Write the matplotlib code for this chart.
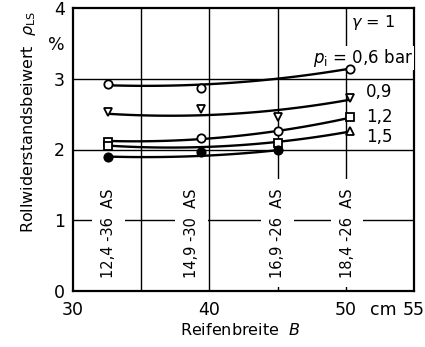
import numpy as np
import matplotlib
matplotlib.use('Agg')
import matplotlib.pyplot as plt

plt.rcParams['font.family'] = 'DejaVu Sans'
plt.rcParams['mathtext.fontset'] = 'dejavusans'

# tyre width B [cm] of the four tested tyres
tyre_b = [32.6, 39.4, 45.0, 50.3]
tyre_names = ['12,4 -36  AS', '14,9 -30  AS', '16,9 -26  AS', '18,4 -26  AS']

# fitted curves rho_LS [%] at each tyre width, per inflation pressure p_i [bar]
curve_06 = [2.91, 2.91, 3.01, 3.14]
curve_09 = [2.50, 2.50, 2.54, 2.71]
curve_12 = [2.12, 2.15, 2.26, 2.45]
curve_15 = [2.05, 2.05, 2.09, 2.26]
curve_18 = [1.90, 1.91, 1.99]

# measured points (width, value, marker)
pts_06 = ([32.6, 39.4, 50.3], [2.92, 2.87, 3.14], ['o', 'o', 'o'])
pts_09 = ([32.6, 39.4, 45.0, 50.3], [2.53, 2.57, 2.46, 2.73], ['v', 'v', 'v', 'v'])
pts_12 = ([32.6, 39.4, 45.0, 50.3], [2.10, 2.16, 2.26, 2.46], ['s', 'o', 'o', 's'])
pts_15 = ([32.6, 45.0, 50.3], [2.05, 2.09, 2.26], ['s', 's', '^'])
pts_18 = ([32.6, 39.4, 45.0], [1.89, 1.96, 1.99], ['o', 'o', 'o'])

pressure_labels = ['0,9', '1,2', '1,5']

grid_x = [35, 40, 45, 50]
grid_y = [1, 2, 3]

fig = plt.figure(figsize=(4.25, 3.47), dpi=100)
ax = fig.add_axes([73 / 425, 56 / 347, 341 / 425, 283 / 347])

ax.set_xlim(30, 55)
ax.set_ylim(0, 4)

# tick labels incl. units, no tick marks
ax.set_xticks([30, 40, 50, 52.75, 55])
ax.set_xticklabels(['30', '40', '50', 'cm', '55'])
ax.set_yticks([0, 1, 2, 3, 3.5, 4])
ax.set_yticklabels(['0', '1', '2', '3', '%', '4'])
ax.tick_params(which='both', length=0)
ax.tick_params(axis='x', pad=7, labelsize=12.5)
ax.tick_params(axis='y', pad=6, labelsize=12.5)
for sp in ax.spines.values():
    sp.set_linewidth(1.6)

for gx in grid_x:
    ax.axvline(gx, color='black', lw=1.0, zorder=1)
for gy in grid_y:
    ax.axhline(gy, color='black', lw=1.0, zorder=1)

series = [
    (curve_06, pts_06),
    (curve_09, pts_09),
    (curve_12, pts_12),
    (curve_15, pts_15),
    (curve_18, pts_18),
]
for curve, (px, py, mk) in series:
    xb = tyre_b[:len(curve)]
    coef = np.polyfit(xb, curve, 2)
    xs = np.linspace(xb[0], xb[-1], 100)
    ax.plot(xs, np.polyval(coef, xs), color='black', lw=1.7, zorder=5)
    filled = curve is curve_18
    for x, y, m in zip(px, py, mk):
        ax.plot(x, y, marker=m, ms=6 if m == 'o' else 5.5,
                mfc='black' if filled else 'white', mec='black', mew=1.3,
                zorder=6)

# tyre designations, written upright along the width positions
name_x = [32.6, 38.7, 45.0, 50.1]
for x, name in zip(name_x, tyre_names):
    ax.text(x, 0.82, name, rotation=90, ha='center', va='center', fontsize=10.5,
            bbox=dict(boxstyle='square,pad=0.6', fc='white', ec='none'), zorder=4)

ax.text(52.0, 3.79, r'$\gamma$ = 1', ha='center', va='center', fontsize=11.5)
ax.text(47.6, 3.29, r'$p_{\rm i}$ = 0,6 bar', ha='left', va='center', fontsize=12,
        bbox=dict(boxstyle='square,pad=0.05', fc='white', ec='none'), zorder=4)
for y, lab in zip([2.81, 2.46, 2.18], pressure_labels):
    ax.text(51.5, y, lab, ha='left', va='center', fontsize=12,
            bbox=dict(boxstyle='square,pad=0.1', fc='white', ec='none'), zorder=4)

fig.text(28 / 425, 1 - 122 / 347, r'Rollwiderstandsbeiwert  $\rho_{\rm LS}$',
         rotation=90, ha='center', va='center', fontsize=11.5)
fig.text(240 / 425, 1 - 330 / 347, r'Reifenbreite  $B$', ha='center', va='center',
         fontsize=11.5)

fig.savefig('out.png', dpi=100)
